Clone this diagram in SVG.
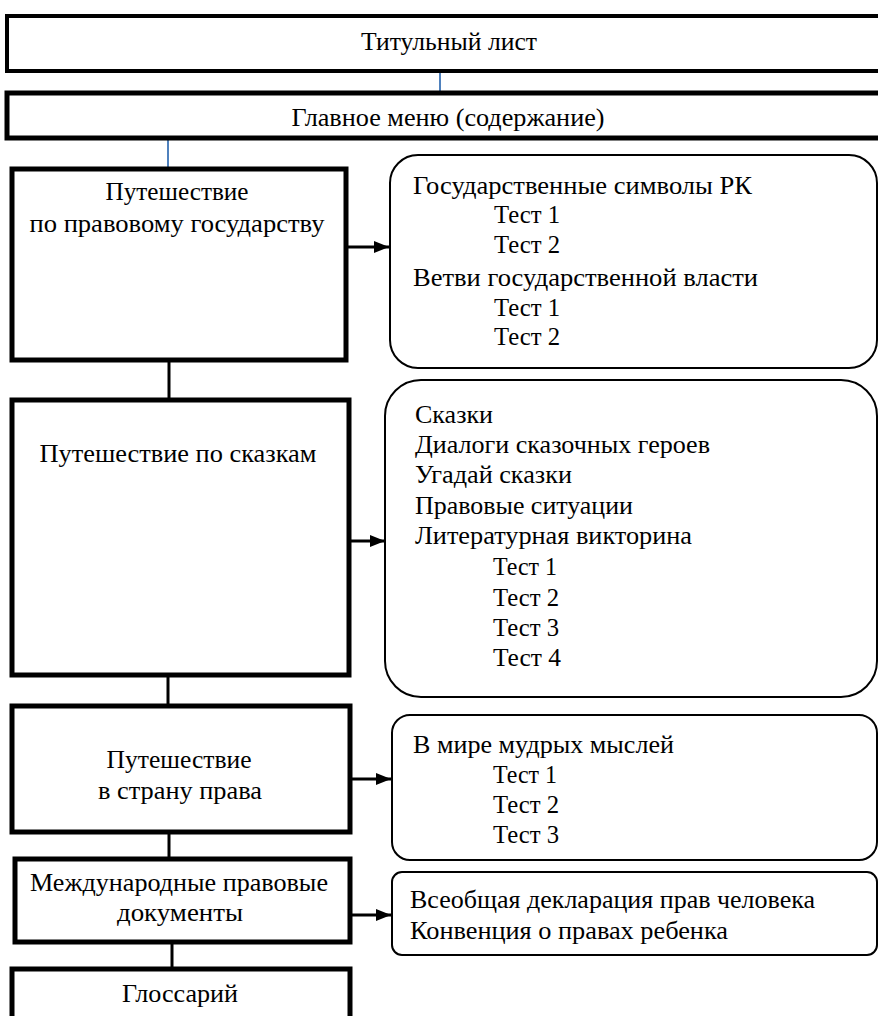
<svg xmlns="http://www.w3.org/2000/svg" width="878" height="1016" viewBox="0 0 878 1016">
<defs>
<style>
.bx{fill:#fff;stroke:#000;stroke-width:5}
.rb{fill:#fff;stroke:#000;stroke-width:2}
.t{font-family:"Liberation Serif","Times New Roman",serif;font-size:26px;fill:#000}
.c{text-anchor:middle}
.ln{stroke:#000;stroke-width:3;fill:none}
.bl{stroke:#4f81bd;stroke-width:2;fill:none}
</style>
<marker id="ar" markerUnits="userSpaceOnUse" markerWidth="16" markerHeight="14" refX="15" refY="7" orient="auto">
<path d="M0,1 L15,7 L0,13 Z" fill="#000"/>
</marker>
</defs>
<rect width="878" height="1016" fill="#fff"/>
<g id="connectors">
<line class="bl" x1="440" y1="71" x2="440" y2="93"/>
<line class="bl" x1="168" y1="138" x2="168" y2="167"/>
<line class="ln" x1="169" y1="362" x2="169" y2="398"/>
<line class="ln" x1="168" y1="677" x2="168" y2="704"/>
<line class="ln" x1="169" y1="834" x2="169" y2="857"/>
<line class="ln" x1="172" y1="944" x2="172" y2="967"/>
<line class="ln" x1="348" y1="247" x2="389" y2="247" marker-end="url(#ar)"/>
<line class="ln" x1="351" y1="541" x2="385" y2="541" marker-end="url(#ar)"/>
<line class="ln" x1="352" y1="779" x2="391" y2="779" marker-end="url(#ar)"/>
<line class="ln" x1="352" y1="915" x2="391" y2="915" marker-end="url(#ar)"/>
</g>
<g id="title">
<rect x="7" y="16" width="890" height="55" fill="#fff" stroke="#000" stroke-width="4"/>
<text class="t c" x="449" y="50" textLength="176" lengthAdjust="spacingAndGlyphs">Титульный лист</text>
</g>
<g id="menu">
<rect x="7" y="93" width="890" height="45" class="bx"/>
<text class="t c" x="448" y="126" textLength="313" lengthAdjust="spacingAndGlyphs">Главное меню (содержание)</text>
</g>
<g id="box1">
<rect x="12" y="169" width="334" height="191" class="bx"/>
<text class="t c" x="177" y="200" textLength="143" lengthAdjust="spacingAndGlyphs">Путешествие</text>
<text class="t c" x="177" y="232" textLength="295" lengthAdjust="spacingAndGlyphs">по правовому государству</text>
</g>
<g id="list1">
<rect x="390" y="155" width="487" height="213" rx="28" class="rb"/>
<text class="t" x="413" y="194" textLength="339" lengthAdjust="spacingAndGlyphs">Государственные символы РК</text>
<text class="t" x="494" y="223" textLength="66" lengthAdjust="spacingAndGlyphs">Тест 1</text>
<text class="t" x="494" y="253" textLength="66" lengthAdjust="spacingAndGlyphs">Тест 2</text>
<text class="t" x="413" y="286" textLength="345" lengthAdjust="spacingAndGlyphs">Ветви государственной власти</text>
<text class="t" x="494" y="316" textLength="66" lengthAdjust="spacingAndGlyphs">Тест 1</text>
<text class="t" x="494" y="345" textLength="66" lengthAdjust="spacingAndGlyphs">Тест 2</text>
</g>
<g id="box2">
<rect x="12" y="400" width="337" height="275" class="bx"/>
<text class="t c" x="178" y="462" textLength="277" lengthAdjust="spacingAndGlyphs">Путешествие по сказкам</text>
</g>
<g id="list2">
<rect x="385" y="380" width="492" height="317" rx="36" class="rb"/>
<text class="t" x="415" y="423" textLength="78" lengthAdjust="spacingAndGlyphs">Сказки</text>
<text class="t" x="415" y="453" textLength="295" lengthAdjust="spacingAndGlyphs">Диалоги сказочных героев</text>
<text class="t" x="415" y="483" textLength="157" lengthAdjust="spacingAndGlyphs">Угадай сказки</text>
<text class="t" x="415" y="514" textLength="218" lengthAdjust="spacingAndGlyphs">Правовые ситуации</text>
<text class="t" x="415" y="544" textLength="277" lengthAdjust="spacingAndGlyphs">Литературная викторина</text>
<text class="t" x="493" y="575" textLength="64" lengthAdjust="spacingAndGlyphs">Тест 1</text>
<text class="t" x="493" y="606" textLength="66" lengthAdjust="spacingAndGlyphs">Тест 2</text>
<text class="t" x="493" y="636" textLength="66" lengthAdjust="spacingAndGlyphs">Тест 3</text>
<text class="t" x="493" y="666" textLength="68" lengthAdjust="spacingAndGlyphs">Тест 4</text>
</g>
<g id="box3">
<rect x="12" y="706" width="338" height="126" class="bx"/>
<text class="t c" x="179" y="768" textLength="145" lengthAdjust="spacingAndGlyphs">Путешествие</text>
<text class="t c" x="180" y="799" textLength="164" lengthAdjust="spacingAndGlyphs">в страну права</text>
</g>
<g id="list3">
<rect x="392" y="715" width="485" height="145" rx="18" class="rb"/>
<text class="t" x="413" y="753" textLength="261" lengthAdjust="spacingAndGlyphs">В мире мудрых мыслей</text>
<text class="t" x="493" y="783" textLength="64" lengthAdjust="spacingAndGlyphs">Тест 1</text>
<text class="t" x="493" y="813" textLength="66" lengthAdjust="spacingAndGlyphs">Тест 2</text>
<text class="t" x="493" y="843" textLength="66" lengthAdjust="spacingAndGlyphs">Тест 3</text>
</g>
<g id="box4">
<rect x="15" y="859" width="335" height="83" class="bx"/>
<text class="t c" x="179" y="891" textLength="298" lengthAdjust="spacingAndGlyphs">Международные правовые</text>
<text class="t c" x="180" y="921" textLength="126" lengthAdjust="spacingAndGlyphs">документы</text>
</g>
<g id="list4">
<rect x="392" y="872" width="485" height="83" rx="10" class="rb"/>
<text class="t" x="410" y="908" textLength="405" lengthAdjust="spacingAndGlyphs">Всеобщая декларация прав человека</text>
<text class="t" x="410" y="939" textLength="318" lengthAdjust="spacingAndGlyphs">Конвенция о правах ребенка</text>
</g>
<g id="box5">
<rect x="12" y="969" width="338" height="60" class="bx"/>
<text class="t c" x="180" y="1002" textLength="116" lengthAdjust="spacingAndGlyphs">Глоссарий</text>
</g>
</svg>
